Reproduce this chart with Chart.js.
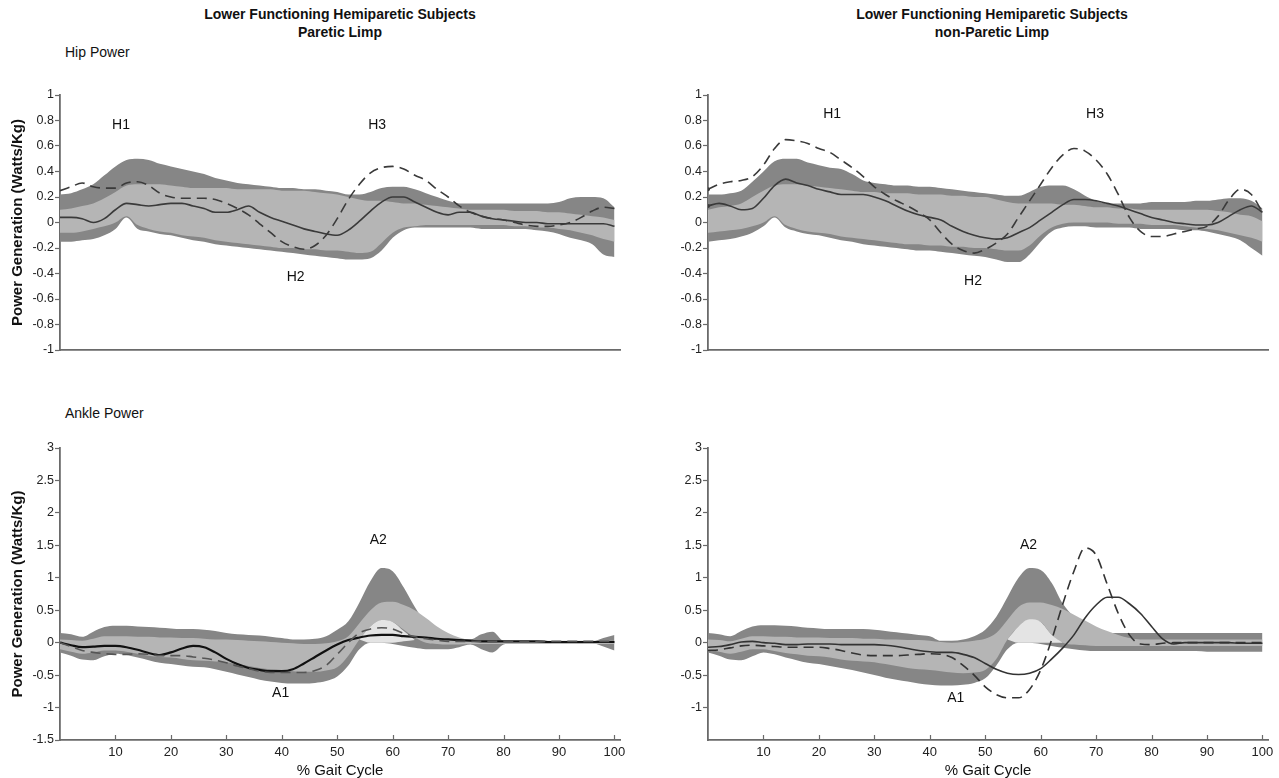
<!DOCTYPE html>
<html>
<head>
<meta charset="utf-8">
<script src="https://cdn.jsdelivr.net/npm/chart.js@4.4.0/dist/chart.umd.min.js"></script>
<style>
  body { margin: 0; background: #fff; width: 1279px; height: 778px; position: relative; overflow: hidden;
         font-family: "Liberation Sans", Arial, sans-serif; color: #111; }
  canvas { position: absolute; }
  .title { position: absolute; font-weight: bold; font-size: 14px; text-align: center; line-height: 18px; }
  .panel { position: absolute; font-size: 14px; line-height: 16px; }
</style>
</head>
<body>
<div class="title" style="left:140px;top:5px;width:400px">Lower Functioning Hemiparetic Subjects<br>Paretic Limp</div>
<div class="title" style="left:792px;top:5px;width:400px">Lower Functioning Hemiparetic Subjects<br>non-Paretic Limp</div>
<div class="panel" style="left:65px;top:44px">Hip Power</div>
<div class="panel" style="left:65px;top:405px">Ankle Power</div>

<canvas id="hipP" width="640" height="280" style="left:0;top:80px"></canvas>
<canvas id="hipNP" width="639" height="280" style="left:640px;top:80px"></canvas>
<canvas id="ankP" width="640" height="348" style="left:0;top:430px"></canvas>
<canvas id="ankNP" width="639" height="348" style="left:640px;top:430px"></canvas>

<script>
// % gait cycle, shared by every series
const gaitCycle = [0, 2, 4, 6, 8, 10, 12, 14, 16, 18, 20, 22, 24, 26, 28, 30, 32, 34, 36, 38, 40, 42, 44, 46, 48, 50,
  52, 54, 56, 58, 60, 62, 64, 66, 68, 70, 72, 74, 76, 78, 80, 82, 84, 86, 88, 90, 92, 94, 96, 98, 100];

const hipYTicks = [-1, -0.8, -0.6, -0.4, -0.2, 0, 0.2, 0.4, 0.6, 0.8, 1];
const ankleYTicks = [-1.5, -1, -0.5, 0, 0.5, 1, 1.5, 2, 2.5, 3];
const ankleYTicksNP = [-1, -0.5, 0, 0.5, 1, 1.5, 2, 2.5, 3];
const gaitTicks = [10, 20, 30, 40, 50, 60, 70, 80, 90, 100];

// ---- Hip, paretic limb ----
const hipPDarkHi = [0.22, 0.23, 0.26, 0.30, 0.37, 0.44, 0.49, 0.50, 0.49, 0.46, 0.44, 0.42, 0.40, 0.38, 0.35, 0.33, 0.31, 0.30, 0.29, 0.28, 0.27,
  0.27, 0.26, 0.26, 0.25, 0.24, 0.22, 0.22, 0.24, 0.27, 0.28, 0.28, 0.26, 0.23, 0.20, 0.17, 0.15, 0.15, 0.15, 0.15, 0.15,
  0.15, 0.15, 0.15, 0.15, 0.16, 0.19, 0.20, 0.20, 0.19, 0.12];
const hipPDarkLo = [-0.15, -0.15, -0.14, -0.13, -0.10, -0.05, 0.04, -0.05, -0.07, -0.09, -0.10, -0.12, -0.14, -0.15, -0.17, -0.18, -0.19, -0.20, -0.21, -0.22, -0.23,
  -0.24, -0.25, -0.26, -0.27, -0.28, -0.29, -0.29, -0.28, -0.22, -0.12, -0.06, -0.04, -0.04, -0.04, -0.04, -0.04, -0.04, -0.05, -0.05, -0.05,
  -0.05, -0.05, -0.06, -0.07, -0.09, -0.12, -0.14, -0.17, -0.25, -0.27];
const hipPLightHi = [0.10, 0.11, 0.13, 0.15, 0.19, 0.24, 0.29, 0.30, 0.30, 0.30, 0.29, 0.28, 0.27, 0.27, 0.27, 0.27, 0.26, 0.26, 0.26, 0.26, 0.25,
  0.25, 0.25, 0.24, 0.23, 0.22, 0.20, 0.18, 0.17, 0.17, 0.16, 0.15, 0.15, 0.14, 0.13, 0.12, 0.11, 0.10, 0.10, 0.10, 0.10,
  0.09, 0.09, 0.09, 0.08, 0.08, 0.07, 0.06, 0.05, 0.04, 0.02];
const hipPLightLo = [-0.08, -0.08, -0.07, -0.05, -0.03, 0.00, 0.05, -0.02, -0.05, -0.07, -0.08, -0.10, -0.11, -0.12, -0.14, -0.15, -0.16, -0.17, -0.18, -0.19, -0.20,
  -0.20, -0.21, -0.21, -0.22, -0.22, -0.23, -0.24, -0.23, -0.16, -0.08, -0.04, -0.03, -0.02, -0.02, -0.02, -0.02, -0.02, -0.02, -0.02, -0.02,
  -0.03, -0.03, -0.04, -0.04, -0.05, -0.06, -0.08, -0.10, -0.13, -0.15];
const hipPSolid = [0.04, 0.04, 0.03, 0.00, 0.03, 0.10, 0.15, 0.14, 0.13, 0.14, 0.15, 0.15, 0.13, 0.11, 0.08, 0.08, 0.10, 0.13, 0.08, 0.04, 0.01,
  -0.02, -0.05, -0.07, -0.09, -0.10, -0.06, 0.01, 0.09, 0.16, 0.20, 0.20, 0.16, 0.12, 0.08, 0.06, 0.08, 0.08, 0.05, 0.03, 0.02,
  0.01, 0.00, 0.00, -0.01, -0.01, -0.01, -0.01, -0.01, -0.01, -0.03];
const hipPDashed = [0.25, 0.28, 0.31, 0.28, 0.27, 0.27, 0.31, 0.32, 0.29, 0.23, 0.20, 0.19, 0.19, 0.19, 0.18, 0.15, 0.11, 0.06, -0.01, -0.08, -0.15,
  -0.19, -0.21, -0.18, -0.10, 0.03, 0.18, 0.30, 0.39, 0.43, 0.44, 0.42, 0.37, 0.33, 0.26, 0.20, 0.13, 0.08, 0.05, 0.03, 0.02,
  0.00, -0.02, -0.03, -0.03, -0.02, 0.00, 0.04, 0.09, 0.12, 0.11];

// ---- Hip, non-paretic limb ----
const hipNDarkHi = [0.22, 0.22, 0.23, 0.25, 0.32, 0.40, 0.48, 0.50, 0.50, 0.47, 0.45, 0.43, 0.42, 0.38, 0.33, 0.31, 0.30, 0.29, 0.29, 0.28, 0.28,
  0.27, 0.26, 0.25, 0.24, 0.23, 0.22, 0.21, 0.21, 0.24, 0.28, 0.29, 0.29, 0.26, 0.21, 0.17, 0.15, 0.15, 0.15, 0.15, 0.16,
  0.16, 0.16, 0.16, 0.17, 0.17, 0.18, 0.19, 0.19, 0.17, 0.11];
const hipNDarkLo = [-0.15, -0.14, -0.13, -0.11, -0.08, -0.03, 0.04, -0.04, -0.07, -0.09, -0.10, -0.12, -0.14, -0.15, -0.17, -0.18, -0.19, -0.20, -0.21, -0.22, -0.22,
  -0.23, -0.24, -0.25, -0.26, -0.27, -0.29, -0.31, -0.31, -0.25, -0.15, -0.07, -0.04, -0.03, -0.03, -0.04, -0.04, -0.04, -0.04, -0.05, -0.05,
  -0.05, -0.05, -0.06, -0.06, -0.07, -0.09, -0.11, -0.14, -0.20, -0.26];
const hipNLightHi = [0.10, 0.12, 0.13, 0.15, 0.20, 0.25, 0.29, 0.30, 0.30, 0.29, 0.28, 0.27, 0.26, 0.25, 0.24, 0.24, 0.23, 0.23, 0.23, 0.22, 0.22,
  0.22, 0.21, 0.21, 0.20, 0.20, 0.18, 0.16, 0.15, 0.15, 0.15, 0.15, 0.14, 0.14, 0.13, 0.12, 0.12, 0.11, 0.11, 0.10, 0.10,
  0.10, 0.10, 0.10, 0.10, 0.10, 0.09, 0.08, 0.06, 0.05, 0.01];
const hipNLightLo = [-0.08, -0.07, -0.06, -0.05, -0.03, 0.00, 0.05, -0.02, -0.05, -0.07, -0.08, -0.09, -0.11, -0.12, -0.13, -0.14, -0.15, -0.16, -0.17, -0.17, -0.18,
  -0.18, -0.19, -0.19, -0.20, -0.20, -0.21, -0.22, -0.22, -0.18, -0.10, -0.04, -0.01, 0.00, 0.00, 0.00, 0.00, -0.01, -0.01, -0.01, -0.02,
  -0.02, -0.02, -0.03, -0.04, -0.05, -0.06, -0.08, -0.10, -0.12, -0.15];
const hipNSolid = [0.13, 0.15, 0.13, 0.10, 0.11, 0.19, 0.29, 0.34, 0.31, 0.29, 0.26, 0.24, 0.22, 0.22, 0.22, 0.20, 0.17, 0.13, 0.09, 0.06, 0.04,
  0.02, -0.03, -0.07, -0.10, -0.12, -0.13, -0.12, -0.08, -0.04, 0.02, 0.08, 0.14, 0.18, 0.18, 0.17, 0.15, 0.13, 0.10, 0.07, 0.04,
  0.02, 0.00, -0.01, -0.02, -0.02, 0.00, 0.05, 0.10, 0.13, 0.08];
const hipNDashed = [0.26, 0.30, 0.32, 0.33, 0.36, 0.45, 0.58, 0.65, 0.64, 0.62, 0.58, 0.55, 0.49, 0.43, 0.36, 0.28, 0.22, 0.17, 0.13, 0.08, 0.02,
  -0.08, -0.17, -0.22, -0.24, -0.21, -0.16, -0.09, 0.04, 0.17, 0.30, 0.43, 0.53, 0.58, 0.56, 0.49, 0.38, 0.22, 0.04, -0.07, -0.11,
  -0.11, -0.09, -0.07, -0.05, -0.03, 0.05, 0.18, 0.26, 0.22, 0.08];

// ---- Ankle, paretic limb ----
const ankPDarkHi = [0.15, 0.13, 0.09, 0.17, 0.24, 0.26, 0.26, 0.25, 0.24, 0.23, 0.22, 0.21, 0.21, 0.20, 0.18, 0.15, 0.13, 0.12, 0.11, 0.09, 0.07,
  0.05, 0.05, 0.06, 0.10, 0.20, 0.33, 0.62, 0.95, 1.15, 1.10, 0.85, 0.55, 0.30, 0.15, 0.08, 0.06, 0.05, 0.13, 0.17, 0.03,
  0.02, 0.02, 0.02, 0.02, 0.02, 0.02, 0.02, 0.02, 0.07, 0.12];
const ankPDarkLo = [-0.15, -0.20, -0.26, -0.27, -0.21, -0.17, -0.19, -0.23, -0.27, -0.31, -0.33, -0.35, -0.37, -0.38, -0.41, -0.45, -0.49, -0.53, -0.57, -0.60, -0.62,
  -0.63, -0.63, -0.62, -0.59, -0.52, -0.35, -0.10, 0.00, 0.00, -0.02, -0.05, -0.08, -0.10, -0.10, -0.10, -0.07, -0.03, -0.10, -0.15, -0.03,
  -0.01, -0.01, -0.01, -0.01, -0.01, -0.01, -0.01, -0.01, -0.06, -0.12];
const ankPLightHi = [0.05, 0.04, 0.03, 0.06, 0.10, 0.10, 0.10, 0.09, 0.09, 0.08, 0.08, 0.07, 0.07, 0.06, 0.05, 0.05, 0.04, 0.03, 0.02, 0.01, 0.00,
  -0.01, -0.02, -0.02, -0.01, 0.02, 0.10, 0.30, 0.50, 0.62, 0.63, 0.58, 0.50, 0.38, 0.25, 0.15, 0.08, 0.04, 0.03, 0.03, 0.03,
  0.03, 0.03, 0.03, 0.03, 0.03, 0.03, 0.03, 0.03, 0.03, 0.03];
const ankPLightLo = [-0.10, -0.14, -0.17, -0.15, -0.12, -0.12, -0.14, -0.17, -0.20, -0.22, -0.23, -0.25, -0.27, -0.28, -0.29, -0.30, -0.33, -0.36, -0.39, -0.41, -0.42,
  -0.44, -0.45, -0.45, -0.43, -0.38, -0.20, 0.05, 0.25, 0.35, 0.32, 0.20, 0.08, 0.00, -0.02, -0.03, -0.03, -0.02, -0.02, -0.02, -0.02,
  -0.02, -0.02, -0.02, -0.02, -0.02, -0.02, -0.02, -0.02, -0.02, -0.02];
const ankPPaleHi = [null, null, null, null, null, null, null, null, null, null, null, null, null, null, null, null, null, null, null, null, null,
  null, null, null, null, null, null, 0.05, 0.25, 0.35, 0.32, 0.18, 0.04, null, null, null, null, null, null, null, null,
  null, null, null, null, null, null, null, null, null, null];
const ankPPaleLo = [null, null, null, null, null, null, null, null, null, null, null, null, null, null, null, null, null, null, null, null, null,
  null, null, null, null, null, null, 0.05, 0.00, 0.00, 0.00, 0.02, 0.04, null, null, null, null, null, null, null, null,
  null, null, null, null, null, null, null, null, null, null];
const ankPSolid = [0.00, -0.04, -0.07, -0.06, -0.05, -0.05, -0.07, -0.11, -0.16, -0.19, -0.15, -0.09, -0.05, -0.07, -0.15, -0.25, -0.33, -0.39, -0.42, -0.44, -0.44,
  -0.41, -0.32, -0.22, -0.12, -0.03, 0.04, 0.08, 0.11, 0.12, 0.12, 0.10, 0.09, 0.08, 0.06, 0.05, 0.04, 0.03, 0.02, 0.02, 0.02,
  0.02, 0.02, 0.02, 0.01, 0.01, 0.01, 0.01, 0.01, 0.01, 0.01];
const ankPDashed = [0.00, -0.06, -0.12, -0.15, -0.17, -0.18, -0.18, -0.17, -0.18, -0.20, -0.20, -0.20, -0.22, -0.24, -0.27, -0.31, -0.36, -0.40, -0.44, -0.46, -0.46,
  -0.46, -0.46, -0.43, -0.35, -0.18, 0.00, 0.15, 0.21, 0.23, 0.21, 0.14, 0.09, 0.06, 0.04, 0.02, 0.02, 0.02, 0.02, 0.02, 0.02,
  0.02, 0.02, 0.02, 0.02, 0.02, 0.02, 0.02, 0.02, 0.02, 0.02];

// ---- Ankle, non-paretic limb ----
const ankNDarkHi = [0.15, 0.13, 0.10, 0.18, 0.25, 0.27, 0.27, 0.26, 0.25, 0.23, 0.22, 0.21, 0.21, 0.21, 0.21, 0.20, 0.18, 0.16, 0.14, 0.12, 0.10,
  0.03, 0.03, 0.05, 0.10, 0.20, 0.40, 0.70, 1.00, 1.15, 1.12, 0.92, 0.60, 0.40, 0.25, 0.18, 0.15, 0.15, 0.15, 0.15, 0.15,
  0.15, 0.15, 0.15, 0.15, 0.15, 0.15, 0.15, 0.15, 0.15, 0.15];
const ankNDarkLo = [-0.15, -0.20, -0.26, -0.27, -0.21, -0.15, -0.18, -0.23, -0.27, -0.31, -0.33, -0.36, -0.39, -0.42, -0.46, -0.50, -0.54, -0.57, -0.60, -0.63, -0.65,
  -0.66, -0.66, -0.65, -0.62, -0.55, -0.35, -0.10, 0.00, 0.00, -0.02, -0.05, -0.08, -0.10, -0.12, -0.13, -0.13, -0.13, -0.13, -0.13, -0.13,
  -0.13, -0.13, -0.13, -0.13, -0.14, -0.14, -0.14, -0.14, -0.14, -0.14];
const ankNLightHi = [0.05, 0.04, 0.02, 0.06, 0.10, 0.10, 0.09, 0.09, 0.08, 0.08, 0.08, 0.07, 0.07, 0.07, 0.06, 0.06, 0.05, 0.05, 0.04, 0.04, 0.03,
  0.01, 0.00, 0.01, 0.03, 0.06, 0.15, 0.35, 0.55, 0.62, 0.62, 0.58, 0.52, 0.43, 0.34, 0.25, 0.18, 0.12, 0.07, 0.05, 0.05,
  0.05, 0.05, 0.05, 0.05, 0.05, 0.05, 0.05, 0.05, 0.05, 0.05];
const ankNLightLo = [-0.10, -0.14, -0.17, -0.14, -0.10, -0.10, -0.13, -0.16, -0.18, -0.20, -0.21, -0.23, -0.26, -0.28, -0.29, -0.30, -0.33, -0.36, -0.39, -0.41, -0.42,
  -0.44, -0.46, -0.47, -0.46, -0.42, -0.25, 0.05, 0.25, 0.35, 0.32, 0.12, 0.00, -0.03, -0.04, -0.05, -0.05, -0.05, -0.05, -0.05, -0.05,
  -0.05, -0.05, -0.05, -0.05, -0.05, -0.05, -0.05, -0.05, -0.05, -0.05];
const ankNPaleHi = [null, null, null, null, null, null, null, null, null, null, null, null, null, null, null, null, null, null, null, null, null,
  null, null, null, null, null, null, 0.05, 0.25, 0.36, 0.32, 0.12, 0.00, null, null, null, null, null, null, null, null,
  null, null, null, null, null, null, null, null, null, null];
const ankNPaleLo = [null, null, null, null, null, null, null, null, null, null, null, null, null, null, null, null, null, null, null, null, null,
  null, null, null, null, null, null, 0.05, 0.00, 0.00, 0.00, 0.00, 0.00, null, null, null, null, null, null, null, null,
  null, null, null, null, null, null, null, null, null, null];
const ankNSolid = [-0.07, -0.06, -0.03, 0.01, 0.02, 0.00, -0.01, -0.03, -0.03, -0.02, -0.02, -0.02, -0.03, -0.03, -0.03, -0.03, -0.04, -0.06, -0.09, -0.12, -0.14,
  -0.15, -0.15, -0.18, -0.23, -0.32, -0.41, -0.47, -0.49, -0.47, -0.40, -0.25, -0.08, 0.12, 0.38, 0.58, 0.70, 0.70, 0.60, 0.45, 0.25,
  0.06, -0.02, 0.00, 0.00, 0.00, 0.00, 0.00, -0.01, -0.01, -0.01];
const ankNDashed = [-0.12, -0.11, -0.08, -0.05, -0.04, -0.05, -0.06, -0.07, -0.07, -0.07, -0.07, -0.09, -0.12, -0.16, -0.19, -0.20, -0.20, -0.20, -0.19, -0.18, -0.17,
  -0.18, -0.23, -0.35, -0.50, -0.68, -0.80, -0.85, -0.85, -0.72, -0.42, 0.05, 0.60, 1.10, 1.46, 1.35, 0.90, 0.45, 0.12, -0.02, -0.03,
  -0.01, 0.00, 0.00, 0.00, 0.00, 0.00, 0.00, 0.00, 0.00, 0.00];

// peak labels, placed in data units
const hipPLabels = [{ text: 'H1', x: 11, y: 0.76 }, { text: 'H2', x: 42.5, y: -0.43 }, { text: 'H3', x: 57.2, y: 0.76 }];
const hipNLabels = [{ text: 'H1', x: 22.4, y: 0.85 }, { text: 'H2', x: 47.8, y: -0.46 }, { text: 'H3', x: 69.8, y: 0.85 }];
const ankPLabels = [{ text: 'A1', x: 39.8, y: -0.78 }, { text: 'A2', x: 57.4, y: 1.58 }];
const ankNLabels = [{ text: 'A1', x: 44.7, y: -0.86 }, { text: 'A2', x: 57.8, y: 1.51 }];

const FONT = '"Liberation Sans", Arial, sans-serif';
const DARK = '#868686';
const LIGHT = '#b5b5b5';
const PALE = '#e4e4e4';
const AXIS = '#6a6a6a';

const pts = arr => arr.map((v, i) => ({ x: gaitCycle[i], y: v }));

function band(arr, color, fill) {
  return {
    data: pts(arr), borderWidth: 0, pointRadius: 0, backgroundColor: color,
    fill: fill ? '+1' : false, cubicInterpolationMode: 'monotone', spanGaps: false
  };
}
function curve(arr, color, width, dash, startDot) {
  return {
    data: pts(arr), borderColor: color, borderWidth: width, borderDash: dash || [],
    pointRadius: c => (startDot && c.dataIndex === 0 ? 2 : 0), pointBackgroundColor: color, pointBorderWidth: 0,
    fill: false, cubicInterpolationMode: 'monotone'
  };
}

const labelPlugin = {
  id: 'peakLabels',
  afterDatasetsDraw(chart, args, opts) {
    const { ctx, scales } = chart;
    ctx.save();
    ctx.font = '14px ' + FONT;
    ctx.fillStyle = '#111';
    ctx.textAlign = 'center';
    ctx.textBaseline = 'middle';
    (opts.items || []).forEach(l => {
      ctx.fillText(l.text, scales.x.getPixelForValue(l.x), scales.y.getPixelForValue(l.y));
    });
    ctx.restore();
  }
};

// small tick marks pointing up into the plot on the x axis
const innerTicks = {
  id: 'innerTicks',
  afterDraw(chart, args, opts) {
    if (!opts.show) return;
    const { ctx, scales, chartArea } = chart;
    ctx.save();
    ctx.strokeStyle = AXIS;
    ctx.lineWidth = 1.2;
    gaitTicks.forEach(t => {
      const px = Math.round(scales.x.getPixelForValue(t)) + 0.5;
      ctx.beginPath();
      ctx.moveTo(px, chartArea.bottom);
      ctx.lineTo(px, chartArea.bottom - 5);
      ctx.stroke();
    });
    ctx.restore();
  }
};

function makePanel(id, p) {
  const datasets = [
    curve(p.dashed, p.dashColor, p.dashWidth, [10, 6], p.startDot),
    curve(p.solid, p.solidColor, p.solidWidth, null, p.startDot)
  ];
  if (p.paleHi) datasets.push(band(p.paleHi, PALE, true), band(p.paleLo, PALE, false));
  datasets.push(band(p.lightHi, LIGHT, true), band(p.lightLo, LIGHT, false));
  datasets.push(band(p.darkHi, DARK, true), band(p.darkLo, DARK, false));

  new Chart(document.getElementById(id), {
    type: 'line',
    data: { datasets },
    plugins: [labelPlugin, innerTicks],
    options: {
      responsive: false,
      animation: false,
      devicePixelRatio: 1,
      layout: { padding: { top: p.padTop, right: p.padRight, left: 0, bottom: 0 } },
      plugins: {
        legend: { display: false },
        tooltip: { enabled: false },
        peakLabels: { items: p.labels },
        innerTicks: { show: p.xLabels }
      },
      scales: {
        x: {
          type: 'linear', min: 0, max: 101,
          afterBuildTicks: s => { s.ticks = gaitTicks.map(v => ({ value: v })); },
          afterFit: s => { s.height = p.xHeight; },
          grid: { drawOnChartArea: false, drawTicks: false },
          border: { display: true, color: AXIS, width: 1.8 },
          ticks: { display: p.xLabels, padding: 5, color: '#222', font: { family: FONT, size: 13 } },
          title: {
            display: p.xLabels, text: '% Gait Cycle', color: '#111',
            font: { family: FONT, size: 15, lineHeight: 1 }, padding: { top: 0, bottom: 0 }
          }
        },
        y: {
          type: 'linear', min: p.yMin, max: p.yMax,
          afterBuildTicks: s => { s.ticks = p.yTicks.map(v => ({ value: v })); },
          afterFit: s => { s.width = p.yWidth; },
          grid: { drawOnChartArea: false, drawTicks: true, tickLength: 5, color: AXIS, tickWidth: 1.2 },
          border: { display: true, color: AXIS, width: 1.8 },
          ticks: {
            padding: 1, color: '#222', font: { family: FONT, size: 12.5 },
            callback: v => String(+Number(v).toFixed(2))
          },
          title: {
            display: p.yTitle, text: 'Power Generation (Watts/Kg)', color: '#111',
            font: { family: FONT, size: 15, weight: 'bold' }, padding: { top: 9, bottom: 0 }
          }
        }
      }
    }
  });
}

const hipCommon = { yMin: -1, yMax: 1, yTicks: hipYTicks, padTop: 15, xHeight: 10, xLabels: false,
  solidColor: '#3a3a3a', solidWidth: 1.6, dashColor: '#3a3a3a', dashWidth: 1.6 };
const ankCommon = { yMin: -1.5, yMax: 3, padTop: 18, xHeight: 38, xLabels: true };

makePanel('hipP', Object.assign({}, hipCommon, {
  yWidth: 60, padRight: 20, yTitle: true, labels: hipPLabels,
  darkHi: hipPDarkHi, darkLo: hipPDarkLo, lightHi: hipPLightHi, lightLo: hipPLightLo,
  solid: hipPSolid, dashed: hipPDashed
}));
makePanel('hipNP', Object.assign({}, hipCommon, {
  yWidth: 68, padRight: 11, yTitle: false, labels: hipNLabels, startDot: true,
  darkHi: hipNDarkHi, darkLo: hipNDarkLo, lightHi: hipNLightHi, lightLo: hipNLightLo,
  solid: hipNSolid, dashed: hipNDashed
}));
makePanel('ankP', Object.assign({}, ankCommon, {
  yTicks: ankleYTicks, yWidth: 60, padRight: 20, yTitle: true, labels: ankPLabels,
  darkHi: ankPDarkHi, darkLo: ankPDarkLo, lightHi: ankPLightHi, lightLo: ankPLightLo,
  paleHi: ankPPaleHi, paleLo: ankPPaleLo,
  solid: ankPSolid, dashed: ankPDashed,
  solidColor: '#111', solidWidth: 2.2, dashColor: '#555', dashWidth: 1.6
}));
makePanel('ankNP', Object.assign({}, ankCommon, {
  yTicks: ankleYTicksNP, yWidth: 68, padRight: 11, yTitle: false, labels: ankNLabels,
  darkHi: ankNDarkHi, darkLo: ankNDarkLo, lightHi: ankNLightHi, lightLo: ankNLightLo,
  paleHi: ankNPaleHi, paleLo: ankNPaleLo,
  solid: ankNSolid, dashed: ankNDashed,
  solidColor: '#333', solidWidth: 1.6, dashColor: '#333', dashWidth: 1.6
}));
</script>
</body>
</html>
